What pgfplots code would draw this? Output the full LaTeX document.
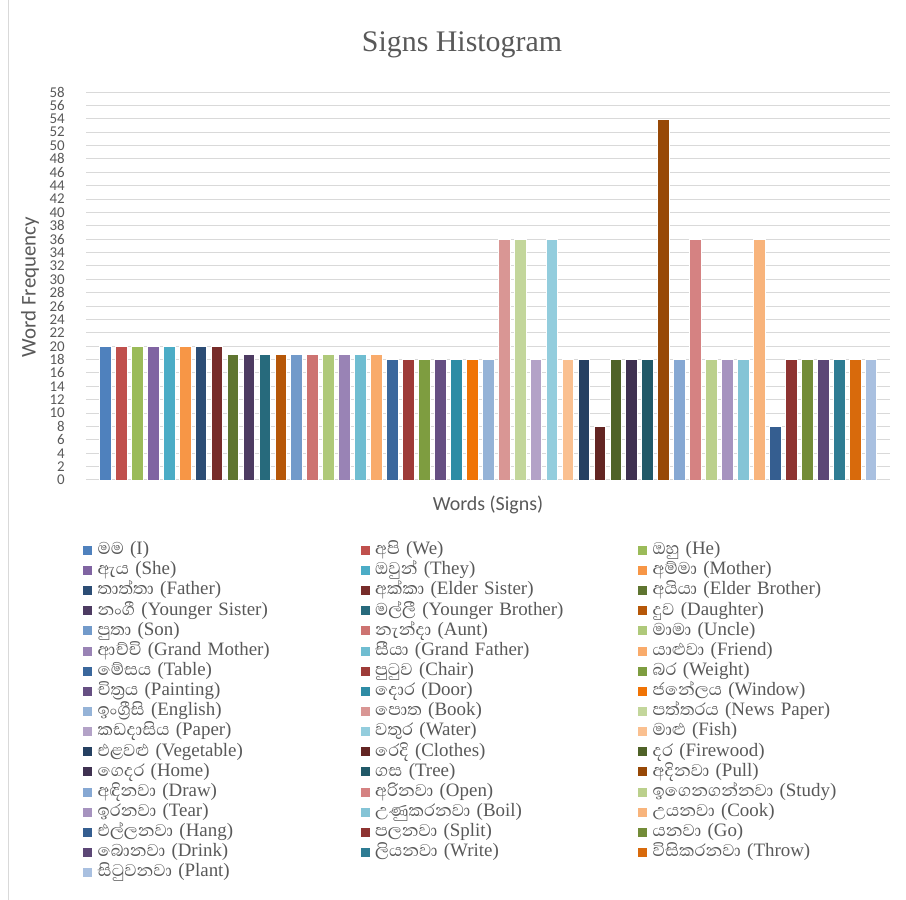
\documentclass[border=0pt]{standalone}
\usepackage{fontspec}
\setmainfont{Liberation Serif}
\newfontfamily\sinhalafont[Script=Sinhala, Scale=1.15]{Abhaya Libre}
\newfontfamily\carlito{Carlito}
\usepackage{pgfplots}
\pgfplotsset{compat=1.18}
\definecolor{txtgray}{HTML}{595959}
\definecolor{gridgray}{HTML}{D9D9D9}
\definecolor{c1}{HTML}{4F81BD}\definecolor{c2}{HTML}{C0504D}\definecolor{c3}{HTML}{9BBB59}
\definecolor{c4}{HTML}{8064A2}\definecolor{c5}{HTML}{4BACC6}\definecolor{c6}{HTML}{F79646}
\definecolor{c7}{HTML}{2C4D75}\definecolor{c8}{HTML}{772C2A}\definecolor{c9}{HTML}{5F7530}
\definecolor{c10}{HTML}{4D3B62}\definecolor{c11}{HTML}{276A7C}\definecolor{c12}{HTML}{B65708}
\definecolor{c13}{HTML}{729ACA}\definecolor{c14}{HTML}{CD7371}\definecolor{c15}{HTML}{AFC97A}
\definecolor{c16}{HTML}{9983B5}\definecolor{c17}{HTML}{6FBDD1}\definecolor{c18}{HTML}{F9AB6B}
\definecolor{c19}{HTML}{3A679C}\definecolor{c20}{HTML}{9E3B38}\definecolor{c21}{HTML}{7E9D40}
\definecolor{c22}{HTML}{664F83}\definecolor{c23}{HTML}{2E8CA5}\definecolor{c24}{HTML}{F07305}
\definecolor{c25}{HTML}{95B3D7}\definecolor{c26}{HTML}{D99694}\definecolor{c27}{HTML}{C3D69B}
\definecolor{c28}{HTML}{B3A2C7}\definecolor{c29}{HTML}{93CDDD}\definecolor{c30}{HTML}{FAC090}
\definecolor{c31}{HTML}{254061}\definecolor{c32}{HTML}{632523}\definecolor{c33}{HTML}{4F6228}
\definecolor{c34}{HTML}{3F3151}\definecolor{c35}{HTML}{215968}\definecolor{c36}{HTML}{974806}
\definecolor{c37}{HTML}{86A8D3}\definecolor{c38}{HTML}{D58282}\definecolor{c39}{HTML}{BBD08C}
\definecolor{c40}{HTML}{A693BF}\definecolor{c41}{HTML}{84C4D6}\definecolor{c42}{HTML}{F8B47C}
\definecolor{c43}{HTML}{355E90}\definecolor{c44}{HTML}{8E3331}\definecolor{c45}{HTML}{738C38}
\definecolor{c46}{HTML}{5C4776}\definecolor{c47}{HTML}{2E7C93}\definecolor{c48}{HTML}{D86A0C}
\definecolor{c49}{HTML}{A9C0E0}
\newcommand\sbar[5]{\addplot[ybar, bar shift=0pt, bar width=11.7bp, fill=#3, draw=white, line width=0.5bp] coordinates {(#1,#2)};\addlegendentry{{\sinhalafont #4} (#5)}}
\begin{document}
\begin{tikzpicture}
\fill[white] (0bp,0bp) rectangle (906bp,900bp);
\useasboundingbox (0bp,0bp) rectangle (906bp,900bp);
\draw[gridgray, line width=1bp] (8bp,0bp) -- (8bp,900bp);
\begin{axis}[
  at={(86bp,420bp)}, anchor=south west,
  scale only axis, width=804bp, height=388bp,
  xmin=-0.2, xmax=50.2, ymin=0, ymax=58,
  xtick=\empty, ytick={0,2,...,58},
  ymajorgrids, grid style={line width=1bp, color=gridgray},
  axis line style={draw=none}, major tick length=0pt,
  /pgf/number format/assume math mode=true,
  yticklabel style={font=\carlito\fontsize{15}{15}\selectfont, text=txtgray, inner sep=0pt, xshift=-21bp},
  legend columns=3,
  legend style={at={(axis description cs:-0.0087,-0.153)}, anchor=north west, draw=none, fill=none,
    font=\fontsize{19}{20}\selectfont, text=txtgray, column sep=0pt, row sep=3.15bp,
    nodes={inner sep=0pt, text width=262bp, text height=13bp, text depth=4bp}},
  legend image code/.code={\fill[#1] (0bp,-5bp) rectangle (10bp,5bp); \path (15bp,0bp);},
]
\sbar{1}{20}{c1}{මම}{I}
\sbar{2}{20}{c2}{අපි}{We}
\sbar{3}{20}{c3}{ඔහු}{He}
\sbar{4}{20}{c4}{ඇය}{She}
\sbar{5}{20}{c5}{ඔවුන්}{They}
\sbar{6}{20}{c6}{අම්මා}{Mother}
\sbar{7}{20}{c7}{තාත්තා}{Father}
\sbar{8}{20}{c8}{අක්කා}{Elder Sister}
\sbar{9}{18.8}{c9}{අයියා}{Elder Brother}
\sbar{10}{18.8}{c10}{නංගී}{Younger Sister}
\sbar{11}{18.8}{c11}{මල්ලී}{Younger Brother}
\sbar{12}{18.8}{c12}{දුව}{Daughter}
\sbar{13}{18.8}{c13}{පුතා}{Son}
\sbar{14}{18.8}{c14}{නැන්දා}{Aunt}
\sbar{15}{18.8}{c15}{මාමා}{Uncle}
\sbar{16}{18.8}{c16}{ආච්චි}{Grand Mother}
\sbar{17}{18.8}{c17}{සීයා}{Grand Father}
\sbar{18}{18.8}{c18}{යාළුවා}{Friend}
\sbar{19}{18}{c19}{මේසය}{Table}
\sbar{20}{18}{c20}{පුටුව}{Chair}
\sbar{21}{18}{c21}{බර}{Weight}
\sbar{22}{18}{c22}{චිත්‍රය}{Painting}
\sbar{23}{18}{c23}{දොර}{Door}
\sbar{24}{18}{c24}{ජනේලය}{Window}
\sbar{25}{18}{c25}{ඉංග්‍රීසි}{English}
\sbar{26}{36}{c26}{පොත}{Book}
\sbar{27}{36}{c27}{පත්තරය}{News Paper}
\sbar{28}{18}{c28}{කඩදාසිය}{Paper}
\sbar{29}{36}{c29}{වතුර}{Water}
\sbar{30}{18}{c30}{මාළු}{Fish}
\sbar{31}{18}{c31}{එළවළු}{Vegetable}
\sbar{32}{8}{c32}{රෙදි}{Clothes}
\sbar{33}{18}{c33}{දර}{Firewood}
\sbar{34}{18}{c34}{ගෙදර}{Home}
\sbar{35}{18}{c35}{ගස}{Tree}
\sbar{36}{54}{c36}{අදිනවා}{Pull}
\sbar{37}{18}{c37}{අඳිනවා}{Draw}
\sbar{38}{36}{c38}{අරිනවා}{Open}
\sbar{39}{18}{c39}{ඉගෙනගන්නවා}{Study}
\sbar{40}{18}{c40}{ඉරනවා}{Tear}
\sbar{41}{18}{c41}{උණුකරනවා}{Boil}
\sbar{42}{36}{c42}{උයනවා}{Cook}
\sbar{43}{8}{c43}{එල්ලනවා}{Hang}
\sbar{44}{18}{c44}{පලනවා}{Split}
\sbar{45}{18}{c45}{යනවා}{Go}
\sbar{46}{18}{c46}{බොනවා}{Drink}
\sbar{47}{18}{c47}{ලියනවා}{Write}
\sbar{48}{18}{c48}{විසිකරනවා}{Throw}
\sbar{49}{18}{c49}{සිටුවනවා}{Plant}
\end{axis}
\node[font=\fontsize{30}{30}\selectfont, text=txtgray] at (462bp,855bp) {Signs Histogram};
\node[rotate=90, font=\carlito\fontsize{21}{21}\selectfont, text=txtgray] at (30bp,613bp) {Word Frequency};
\node[font=\carlito\fontsize{20}{20}\selectfont, text=txtgray] at (488bp,395bp) {Words (Signs)};
\end{tikzpicture}
\end{document}
